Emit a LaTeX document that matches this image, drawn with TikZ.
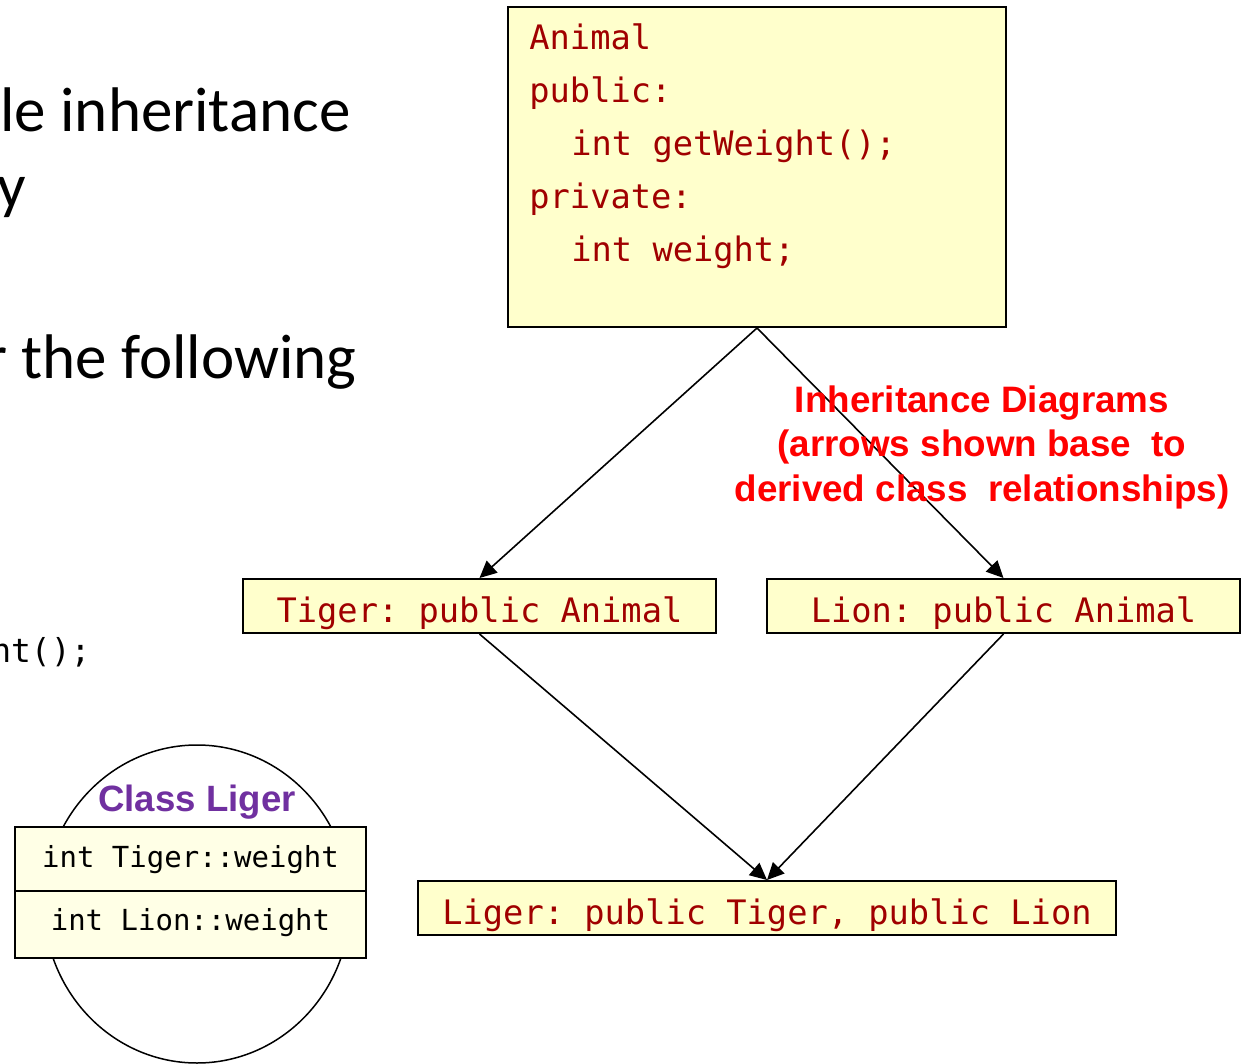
\documentclass[tikz,border=0pt]{standalone}
\usepackage{fontspec}
\setmainfont{Carlito}
\newfontfamily\codefont{DejaVu Sans Mono}
\newfontfamily\notefont{Liberation Sans}
\usetikzlibrary{arrows.meta,shapes.geometric}
\frenchspacing

\definecolor{boxfill}{HTML}{FFFFCC}
\definecolor{cellfill}{HTML}{FFFFE6}
\definecolor{codered}{HTML}{A00000}
\definecolor{notered}{HTML}{FF0000}
\definecolor{ligerpurple}{HTML}{7030A0}

\begin{document}
\begin{tikzpicture}[x=0.5pt,y=-0.5pt,
  codetext/.style={font=\codefont\fontsize{16.85pt}{20pt}\selectfont},
  classbox/.style={draw=black, line width=1pt, fill=boxfill, inner sep=0pt,
    minimum height=27pt, text height=21.5pt, text depth=5.5pt,
    text=codered, codetext},
  codeline/.style={anchor=base west, inner sep=0pt, text=codered, codetext},
  slidetext/.style={anchor=base east, inner sep=0pt, text=black,
    font=\fontsize{31.5pt}{38pt}\selectfont},
  notetext/.style={anchor=base, inner sep=0pt, text=notered,
    font=\notefont\bfseries\fontsize{18.4pt}{22pt}\selectfont},
  cell/.style={draw=black, line width=1pt, fill=cellfill, inner sep=0pt,
    minimum width=175.5pt, text=black,
    font=\codefont\fontsize{14.5pt}{17pt}\selectfont},
  inherit/.style={draw=black, line width=0.8pt,
    -{Triangle[length=8.5pt,width=8pt]}},
]
\useasboundingbox (0,0) rectangle (1242,1064);
\clip (0,0) rectangle (1242,1064);

% slide text on the left
\node[slidetext] (s1) at (351,132) {le inheritance};
\node[slidetext] (s2) at (26,208) {y};
\node[slidetext] (s3) at (357,378) {r the following};
\node[anchor=base east, inner sep=0pt, text=black,
  font=\codefont\fontsize{16.5pt}{20pt}\selectfont] (s4) at (91,662) {nt();};

% base class
\node[draw=black, line width=1pt, fill=boxfill, inner sep=0pt,
  minimum width=249pt, minimum height=160pt] (animal) at (757,167) {};
\node[codeline] (a1) at (529,50) {Animal};
\node[codeline] (a2) at (529,103) {public:};
\node[codeline] (a3) at (571,156) {int getWeight();};
\node[codeline] (a4) at (529,209) {private:};
\node[codeline] (a5) at (571,262) {int weight;};

% derived classes
\node[classbox, minimum width=236.5pt] (tiger) at (479.5,606) {Tiger: public Animal};
\node[classbox, minimum width=236.5pt] (lion) at (1003.5,606) {Lion: public Animal};
\node[classbox, minimum width=349pt] (liger) at (767,908) {Liger: public Tiger, public Lion};

% inheritance arrows
\draw[inherit] (animal.south) -- (tiger.north);
\draw[inherit] (animal.south) -- (lion.north);
\draw[inherit] (tiger.south) -- (liger.north);
\draw[inherit] (lion.south) -- (liger.north);

% note
\node[notetext] (n1) at (982,412) {Inheritance Diagrams};
\node[notetext] (n2) at (982,456.5) {(arrows shown base\ \ to};
\node[notetext] (n3) at (982,501) {derived class\ \ relationships)};

% object layout of a Liger
\node[ellipse, draw=black, line width=0.75pt, fill=white, inner sep=0pt,
  minimum width=153pt, minimum height=159pt] (ligerobj) at (197,904) {};
\node[anchor=base, inner sep=0pt, text=ligerpurple,
  font=\notefont\bfseries\fontsize{18.3pt}{22pt}\selectfont] (ltitle) at (197,811) {Class Liger};
\node[cell, minimum height=32pt, text height=20pt, text depth=12pt]
  (tw) at (190.5,859) {int Tiger::weight};
\node[cell, minimum height=33.5pt, text height=19.5pt, text depth=14pt]
  (lw) at (190.5,924.5) {int Lion::weight};
\end{tikzpicture}
\end{document}
